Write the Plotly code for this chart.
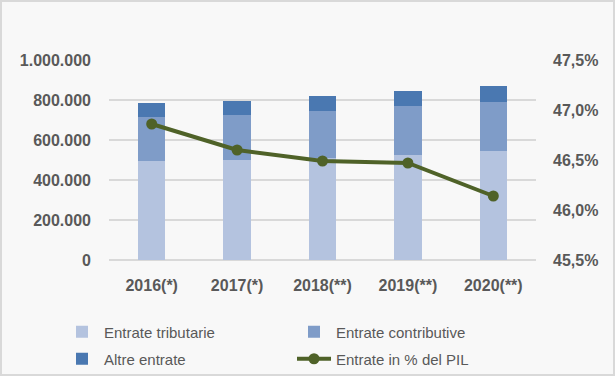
import plotly.graph_objects as go

categories = ["2016(*)", "2017(*)", "2018(**)", "2019(**)", "2020(**)"]
entrate_tributarie = [495000, 500000, 512000, 525000, 545000]
entrate_contributive = [220000, 225000, 233000, 245000, 245000]
altre_entrate = [70000, 70000, 75000, 75000, 80000]
entrate_pil = [46.86, 46.60, 46.49, 46.47, 46.14]

left_ticks = [0, 200000, 400000, 600000, 800000, 1000000]
left_labels = ["0", "200.000", "400.000", "600.000", "800.000", "1.000.000"]
right_ticks = [45.5, 46.0, 46.5, 47.0, 47.5]
right_labels = ["45,5%", "46,0%", "46,5%", "47,0%", "47,5%"]

FONT = "Liberation Sans, Arial, sans-serif"
GRAY = "#595959"

fig = go.Figure()
fig.add_trace(go.Bar(x=categories, y=entrate_tributarie, name="Entrate tributarie",
                     marker=dict(color="#b4c3df", line=dict(width=0)), legend="legend"))
fig.add_trace(go.Bar(x=categories, y=entrate_contributive, name="Entrate contributive",
                     marker=dict(color="#7f9cc8", line=dict(width=0)), legend="legend2"))
fig.add_trace(go.Bar(x=categories, y=altre_entrate, name="Altre entrate",
                     marker=dict(color="#4a78b1", line=dict(width=0)), legend="legend3"))
fig.add_trace(go.Scatter(x=categories, y=entrate_pil, name="Entrate in % del PIL",
                         yaxis="y2", mode="lines+markers",
                         line=dict(color="#4f6228", width=4),
                         marker=dict(color="#4f6228", size=11), legend="legend4"))

def leg(x, y):
    return dict(xref="container", yref="container", x=x/615, xanchor="left",
                y=1-y/376, yanchor="middle", orientation="h",
                font=dict(size=15, family=FONT, color=GRAY),
                bgcolor="rgba(0,0,0,0)", itemwidth=34, visible=True)

fig.update_layout(
    width=615, height=376,
    showlegend=True,
    barmode="stack", bargap=0.68,
    paper_bgcolor="#f8f8f8", plot_bgcolor="#f8f8f8",
    margin=dict(l=109, r=79, t=60, b=116, autoexpand=False),
    font=dict(family=FONT, color=GRAY),
    xaxis=dict(showgrid=False, showline=False, ticks="",
               tickfont=dict(size=16, family=FONT, color=GRAY, weight="bold"),
               ticklabelstandoff=14),
    yaxis=dict(range=[0, 1000000], tickvals=left_ticks, ticktext=left_labels,
               showgrid=True, gridcolor="#d9d9d9", gridwidth=1.5,
               zeroline=True, zerolinecolor="#d9d9d9", zerolinewidth=1.5,
               showline=False, ticks="", ticklabelstandoff=17,
               tickfont=dict(size=16, family=FONT, color=GRAY, weight="bold")),
    yaxis2=dict(range=[45.5, 47.5], tickvals=right_ticks, ticktext=right_labels,
                overlaying="y", side="right", showgrid=False, zeroline=False,
                showline=False, ticks="", ticklabelstandoff=16,
                tickfont=dict(size=16, family=FONT, color=GRAY, weight="bold")),
    legend=leg(60, 332),
    legend2=leg(292, 332),
    legend3=leg(60, 359),
    legend4=leg(292, 359),
    shapes=[dict(type="rect", xref="paper", yref="paper",
                 x0=-108/427, x1=(614-109)/427,
                 y0=-(375-260)/200, y1=(260-1)/200,
                 line=dict(color="#d9d9d9", width=2), fillcolor="rgba(0,0,0,0)",
                 layer="below")],
)

fig.write_html("out.html", config={"displayModeBar": False},
               post_script="document.body.style.margin='0';document.body.style.overflow='hidden';")
